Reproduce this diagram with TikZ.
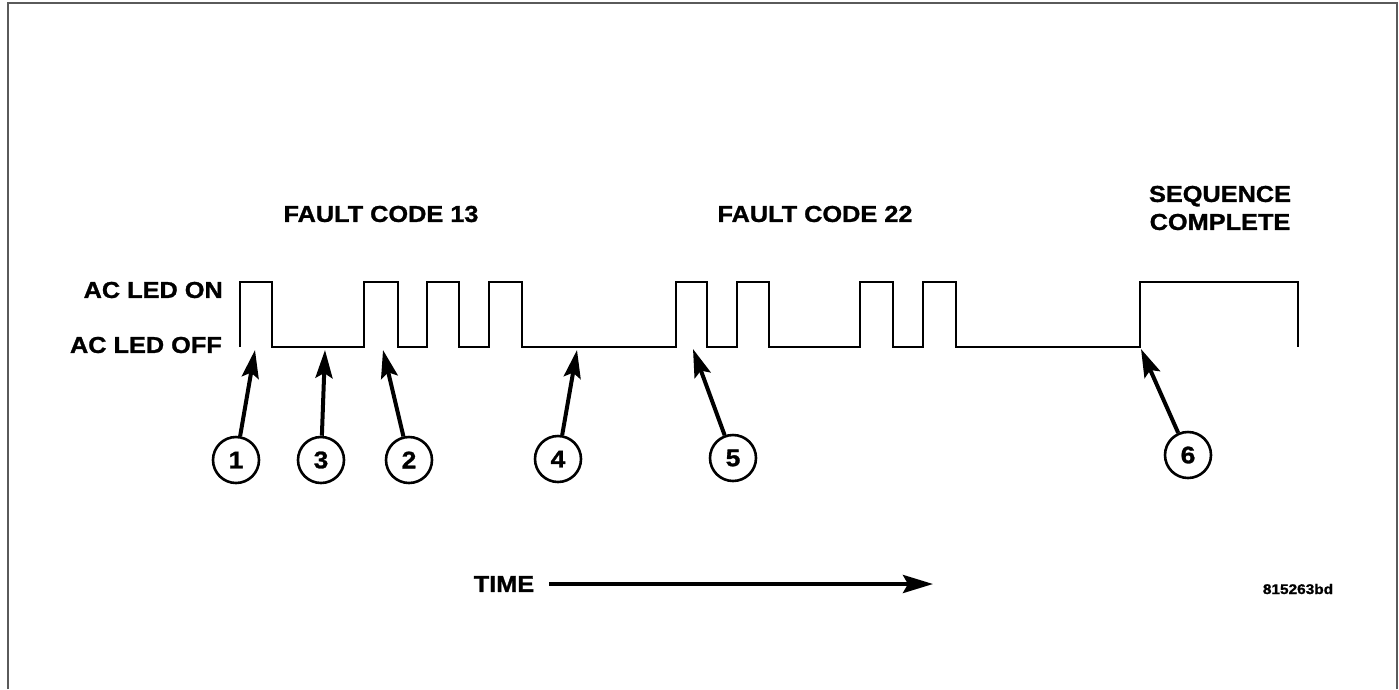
\documentclass[tikz,border=0pt]{standalone}
\usepackage{fontspec}
\setmainfont[FakeStretch=1.1, BoldFeatures={FakeBold=1.2}]{Liberation Sans}
\usepackage{tikz}
\usetikzlibrary{arrows.meta, positioning}
\definecolor{framegray}{HTML}{5a5a5a}

\begin{document}
\begin{tikzpicture}[
  x=1pt, y=-1pt,
  lbl/.style={font=\fontsize{23}{28}\selectfont\bfseries, inner sep=0pt, align=center},
  tag/.style={font=\fontsize{14}{16}\selectfont\bfseries, inner sep=0pt},
  callout/.style={circle, draw, line width=2.6pt, minimum size=46pt, inner sep=0pt,
                  font=\fontsize{24}{28}\selectfont\bfseries},
  wave/.style={line width=2pt, line join=miter},
  pointer/.style={-{Stealth[length=28pt, width=17pt, inset=5pt]}, line width=4pt},
  timeline/.style={-{Stealth[length=30pt, width=18pt, inset=5pt]}, line width=4pt},
]
\useasboundingbox (0,0) rectangle (1399,689);

% frame, bottom edge cut off
\draw[framegray, line width=2pt] (8,689) -- (8,3) -- (1397,3) -- (1397,689);

% headings
\node[lbl] (fc13) at (381,214) {FAULT CODE 13};
\node[lbl] (fc22) at (815,214) {FAULT CODE 22};
\node[lbl] (done) at (1220,208) {SEQUENCE\\COMPLETE};

\node[lbl, anchor=east] (on) at (223,290) {AC LED ON};
\node[lbl, anchor=east] (off) at (222,345) {AC LED OFF};

% LED signal
\draw[wave] (240,347) -- (240,282) -- (272,282) -- (272,347)
  -- (364,347) -- (364,282) -- (398,282) -- (398,347)
  -- (427,347) -- (427,282) -- (459,282) -- (459,347)
  -- (489,347) -- (489,282) -- (522,282) -- (522,347)
  -- (676,347) -- (676,282) -- (707,282) -- (707,347)
  -- (737,347) -- (737,282) -- (769,282) -- (769,347)
  -- (860,347) -- (860,282) -- (893,282) -- (893,347)
  -- (923,347) -- (923,282) -- (956,282) -- (956,347)
  -- (1140,347) -- (1140,282) -- (1298,282) -- (1298,347);

\coordinate (t1) at (255,350);
\coordinate (t3) at (325,350);
\coordinate (t2) at (383,350);
\coordinate (t4) at (577,350);
\coordinate (t5) at (693,349);
\coordinate (t6) at (1141,349);

\node[callout] (c1) at (236,460) {1};
\node[callout] (c3) at (321,460) {3};
\node[callout] (c2) at (409,460) {2};
\node[callout] (c4) at (558,459) {4};
\node[callout] (c5) at (733,458) {5};
\node[callout] (c6) at (1188,455) {6};

\draw[pointer] (c1) -- (t1);
\draw[pointer] (c3) -- (t3);
\draw[pointer] (c2) -- (t2);
\draw[pointer] (c4) -- (t4);
\draw[pointer] (c5) -- (t5);
\draw[pointer] (c6) -- (t6);

% time axis
\node[lbl, inner xsep=15pt] (time) at (504,584) {TIME};
\coordinate (timeend) at (933,584);
\draw[timeline] (time) -- (timeend);

\node[tag] (code) at (1298,589) {815263bd};
\end{tikzpicture}
\end{document}
